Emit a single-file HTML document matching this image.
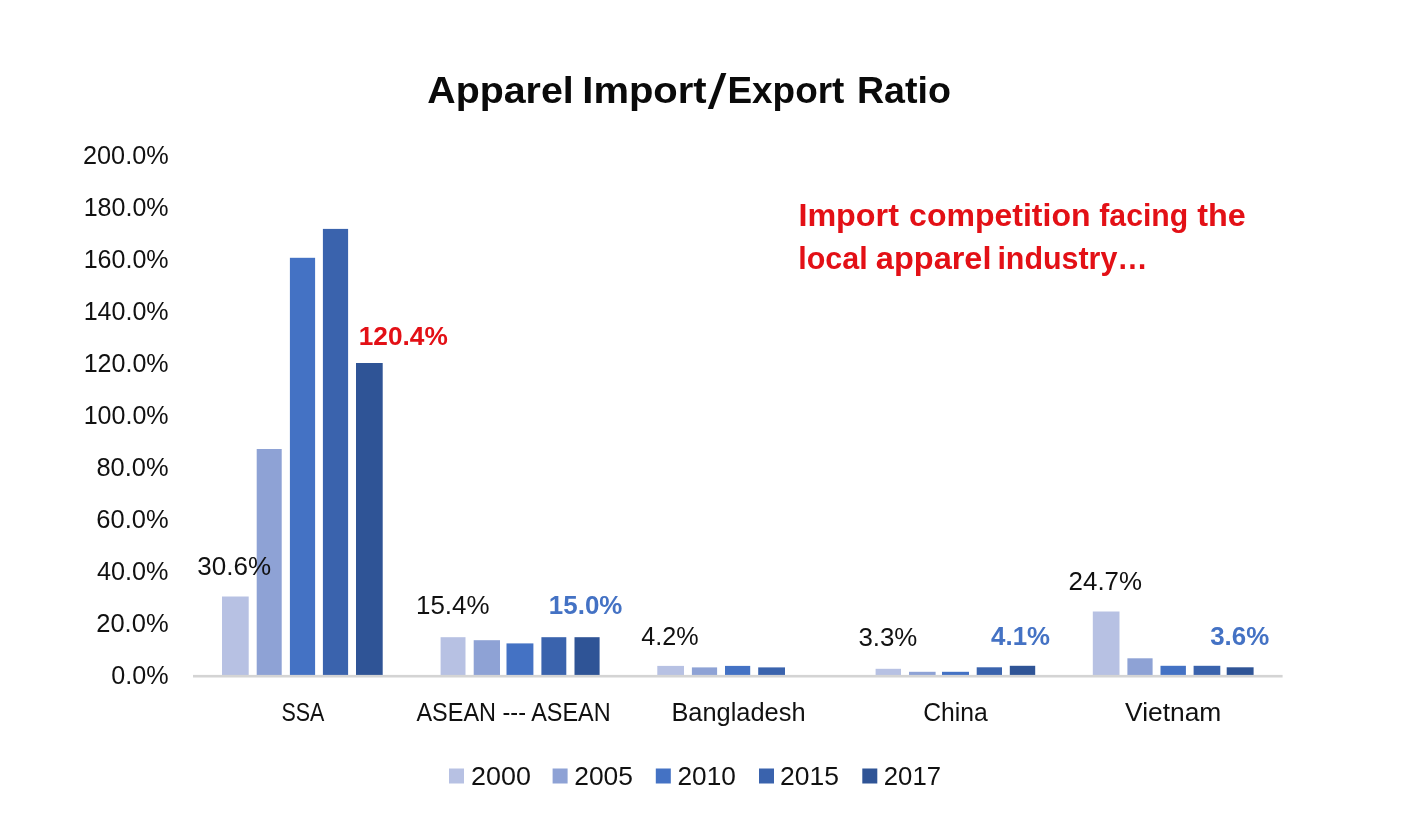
<!DOCTYPE html>
<html lang="en">
<head>
<meta charset="utf-8">
<title>Apparel Import/Export Ratio</title>
<style>
html,body{margin:0;padding:0;background:#fff;}
body{width:1406px;height:830px;overflow:hidden;}
svg{display:block;}
text{font-family:"Liberation Sans",sans-serif;}
.b{font-weight:bold;}
</style>
</head>
<body>
<svg width="1406" height="830" viewBox="0 0 1406 830">
<rect x="0" y="0" width="1406" height="830" fill="#ffffff"/>
<g id="bars" shape-rendering="auto">
<rect x="222.0" y="596.5" width="26.7" height="79.5" fill="#B7C1E3"/>
<rect x="256.7" y="449.0" width="25.0" height="227.0" fill="#8EA2D5"/>
<rect x="289.9" y="257.8" width="25.2" height="418.2" fill="#4472C4"/>
<rect x="322.9" y="228.9" width="25.2" height="447.1" fill="#3A63AD"/>
<rect x="356.0" y="363.0" width="26.7" height="313.0" fill="#2F5496"/>
<rect x="440.6" y="637.2" width="24.9" height="38.8" fill="#B7C1E3"/>
<rect x="473.7" y="640.2" width="26.3" height="35.8" fill="#8EA2D5"/>
<rect x="506.5" y="643.4" width="26.9" height="32.6" fill="#4472C4"/>
<rect x="541.4" y="637.2" width="24.9" height="38.8" fill="#3A63AD"/>
<rect x="574.5" y="637.2" width="25.1" height="38.8" fill="#2F5496"/>
<rect x="657.3" y="665.9" width="26.7" height="10.1" fill="#B7C1E3"/>
<rect x="691.9" y="667.4" width="25.2" height="8.6" fill="#8EA2D5"/>
<rect x="725.0" y="665.9" width="25.2" height="10.1" fill="#4472C4"/>
<rect x="758.2" y="667.4" width="26.8" height="8.6" fill="#3A63AD"/>
<rect x="875.6" y="668.8" width="25.4" height="7.2" fill="#B7C1E3"/>
<rect x="909.0" y="671.8" width="26.6" height="4.2" fill="#8EA2D5"/>
<rect x="942.0" y="671.8" width="27.0" height="4.2" fill="#4472C4"/>
<rect x="976.7" y="667.3" width="25.3" height="8.7" fill="#3A63AD"/>
<rect x="1009.8" y="665.8" width="25.4" height="10.2" fill="#2F5496"/>
<rect x="1092.8" y="611.5" width="26.7" height="64.5" fill="#B7C1E3"/>
<rect x="1127.4" y="658.3" width="25.2" height="17.7" fill="#8EA2D5"/>
<rect x="1160.5" y="665.8" width="25.4" height="10.2" fill="#4472C4"/>
<rect x="1193.6" y="665.8" width="26.7" height="10.2" fill="#3A63AD"/>
<rect x="1226.7" y="667.3" width="26.9" height="8.7" fill="#2F5496"/>
</g>
<rect id="axis" x="193" y="674.9" width="1089.6" height="2.6" fill="#D4D4D4"/>
<g id="legend">
<rect x="449.0" y="768.5" width="15" height="15" fill="#B7C1E3"/>
<rect x="552.6" y="768.5" width="15" height="15" fill="#8EA2D5"/>
<rect x="655.8" y="768.5" width="15" height="15" fill="#4472C4"/>
<rect x="759.0" y="768.5" width="15" height="15" fill="#3A63AD"/>
<rect x="862.3" y="768.5" width="15" height="15" fill="#2F5496"/>
</g>
<g id="labels">
<text id="title"><tspan id="t1" x="427.24" y="103.3" font-size="36.6" fill="#0a0a0a" class="b" textLength="146.45" lengthAdjust="spacingAndGlyphs">Apparel</tspan> <tspan id="t2" x="582.31" y="103.3" font-size="36.6" fill="#0a0a0a" class="b" textLength="124.33" lengthAdjust="spacingAndGlyphs">Import</tspan><tspan id="t3" x="707.65" y="108.6" font-size="50.0" fill="#0a0a0a" textLength="18.65" lengthAdjust="spacingAndGlyphs">/</tspan><tspan id="t4" x="727.48" y="103.3" font-size="36.6" fill="#0a0a0a" class="b" textLength="116.90" lengthAdjust="spacingAndGlyphs">Export</tspan> <tspan id="t5" x="856.92" y="103.3" font-size="36.6" fill="#0a0a0a" class="b" textLength="94.02" lengthAdjust="spacingAndGlyphs">Ratio</tspan></text>
<text id="ann1"><tspan id="a1" x="798.41" y="226.3" font-size="30.7" fill="#E31016" class="b" textLength="100.51" lengthAdjust="spacingAndGlyphs">Import</tspan> <tspan id="a2" x="909.12" y="226.3" font-size="30.7" fill="#E31016" class="b" textLength="181.39" lengthAdjust="spacingAndGlyphs">competition</tspan> <tspan id="a3" x="1099.33" y="226.3" font-size="30.7" fill="#E31016" class="b" textLength="88.85" lengthAdjust="spacingAndGlyphs">facing</tspan> <tspan id="a4" x="1197.27" y="226.3" font-size="30.7" fill="#E31016" class="b" textLength="48.58" lengthAdjust="spacingAndGlyphs">the</tspan></text>
<text id="ann2"><tspan id="a5" x="798.27" y="269.3" font-size="30.7" fill="#E31016" class="b" textLength="69.38" lengthAdjust="spacingAndGlyphs">local</tspan> <tspan id="a6" x="875.89" y="269.3" font-size="30.7" fill="#E31016" class="b" textLength="115.61" lengthAdjust="spacingAndGlyphs">apparel</tspan> <tspan id="a7" x="997.38" y="269.3" font-size="30.7" fill="#E31016" class="b" textLength="150.35" lengthAdjust="spacingAndGlyphs">industry…</tspan></text>
<text id="d1" x="197.25" y="575.4" font-size="25.1" fill="#111111" textLength="73.80" lengthAdjust="spacingAndGlyphs">30.6%</text>
<text id="d2" x="358.76" y="344.7" font-size="25.1" fill="#E31016" class="b" textLength="89.02" lengthAdjust="spacingAndGlyphs">120.4%</text>
<text id="d3" x="416.05" y="614.3" font-size="25.1" fill="#111111" textLength="73.44" lengthAdjust="spacingAndGlyphs">15.4%</text>
<text id="d4" x="548.88" y="614.3" font-size="25.1" fill="#4472C4" class="b" textLength="73.44" lengthAdjust="spacingAndGlyphs">15.0%</text>
<text id="d5" x="641.31" y="644.7" font-size="25.1" fill="#111111" textLength="57.33" lengthAdjust="spacingAndGlyphs">4.2%</text>
<text id="d6" x="858.41" y="645.6" font-size="25.1" fill="#111111" textLength="58.96" lengthAdjust="spacingAndGlyphs">3.3%</text>
<text id="d7" x="991.08" y="644.8" font-size="25.1" fill="#4472C4" class="b" textLength="58.93" lengthAdjust="spacingAndGlyphs">4.1%</text>
<text id="d8" x="1068.61" y="589.9" font-size="25.1" fill="#111111" textLength="73.35" lengthAdjust="spacingAndGlyphs">24.7%</text>
<text id="d9" x="1210.20" y="645.4" font-size="25.1" fill="#4472C4" class="b" textLength="59.01" lengthAdjust="spacingAndGlyphs">3.6%</text>
<text id="c1" x="281.44" y="721.3" font-size="25.1" fill="#111111" textLength="42.96" lengthAdjust="spacingAndGlyphs">SSA</text>
<text id="c2" x="416.48" y="721.3" font-size="25.1" fill="#111111" textLength="194.22" lengthAdjust="spacingAndGlyphs">ASEAN --- ASEAN</text>
<text id="c3" x="671.42" y="721.3" font-size="25.1" fill="#111111" textLength="134.13" lengthAdjust="spacingAndGlyphs">Bangladesh</text>
<text id="c4" x="923.15" y="721.3" font-size="25.1" fill="#111111" textLength="64.50" lengthAdjust="spacingAndGlyphs">China</text>
<text id="c5" x="1125.00" y="721.3" font-size="25.1" fill="#111111" textLength="96.35" lengthAdjust="spacingAndGlyphs">Vietnam</text>
<text id="l1" x="471.11" y="784.6" font-size="25.1" fill="#111111" textLength="59.81" lengthAdjust="spacingAndGlyphs">2000</text>
<text id="l2" x="574.22" y="784.6" font-size="25.1" fill="#111111" textLength="58.70" lengthAdjust="spacingAndGlyphs">2005</text>
<text id="l3" x="677.47" y="784.6" font-size="25.1" fill="#111111" textLength="58.36" lengthAdjust="spacingAndGlyphs">2010</text>
<text id="l4" x="780.13" y="784.6" font-size="25.1" fill="#111111" textLength="58.92" lengthAdjust="spacingAndGlyphs">2015</text>
<text id="l5" x="883.82" y="784.6" font-size="25.1" fill="#111111" textLength="57.17" lengthAdjust="spacingAndGlyphs">2017</text>
<text id="y0" x="83.01" y="164.1" font-size="25.1" fill="#111111" textLength="85.65" lengthAdjust="spacingAndGlyphs">200.0%</text>
<text id="y1" x="83.66" y="216.1" font-size="25.1" fill="#111111" textLength="84.92" lengthAdjust="spacingAndGlyphs">180.0%</text>
<text id="y2" x="83.66" y="268.1" font-size="25.1" fill="#111111" textLength="84.92" lengthAdjust="spacingAndGlyphs">160.0%</text>
<text id="y3" x="83.66" y="320.1" font-size="25.1" fill="#111111" textLength="84.92" lengthAdjust="spacingAndGlyphs">140.0%</text>
<text id="y4" x="83.66" y="372.1" font-size="25.1" fill="#111111" textLength="84.92" lengthAdjust="spacingAndGlyphs">120.0%</text>
<text id="y5" x="83.66" y="424.1" font-size="25.1" fill="#111111" textLength="84.92" lengthAdjust="spacingAndGlyphs">100.0%</text>
<text id="y6" x="96.41" y="476.1" font-size="25.1" fill="#111111" textLength="72.12" lengthAdjust="spacingAndGlyphs">80.0%</text>
<text id="y7" x="96.33" y="528.1" font-size="25.1" fill="#111111" textLength="72.25" lengthAdjust="spacingAndGlyphs">60.0%</text>
<text id="y8" x="97.04" y="580.1" font-size="25.1" fill="#111111" textLength="71.52" lengthAdjust="spacingAndGlyphs">40.0%</text>
<text id="y9" x="96.22" y="632.1" font-size="25.1" fill="#111111" textLength="72.36" lengthAdjust="spacingAndGlyphs">20.0%</text>
<text id="y10" x="111.22" y="684.1" font-size="25.1" fill="#111111" textLength="57.34" lengthAdjust="spacingAndGlyphs">0.0%</text>
</g>
</svg>
</body>
</html>
